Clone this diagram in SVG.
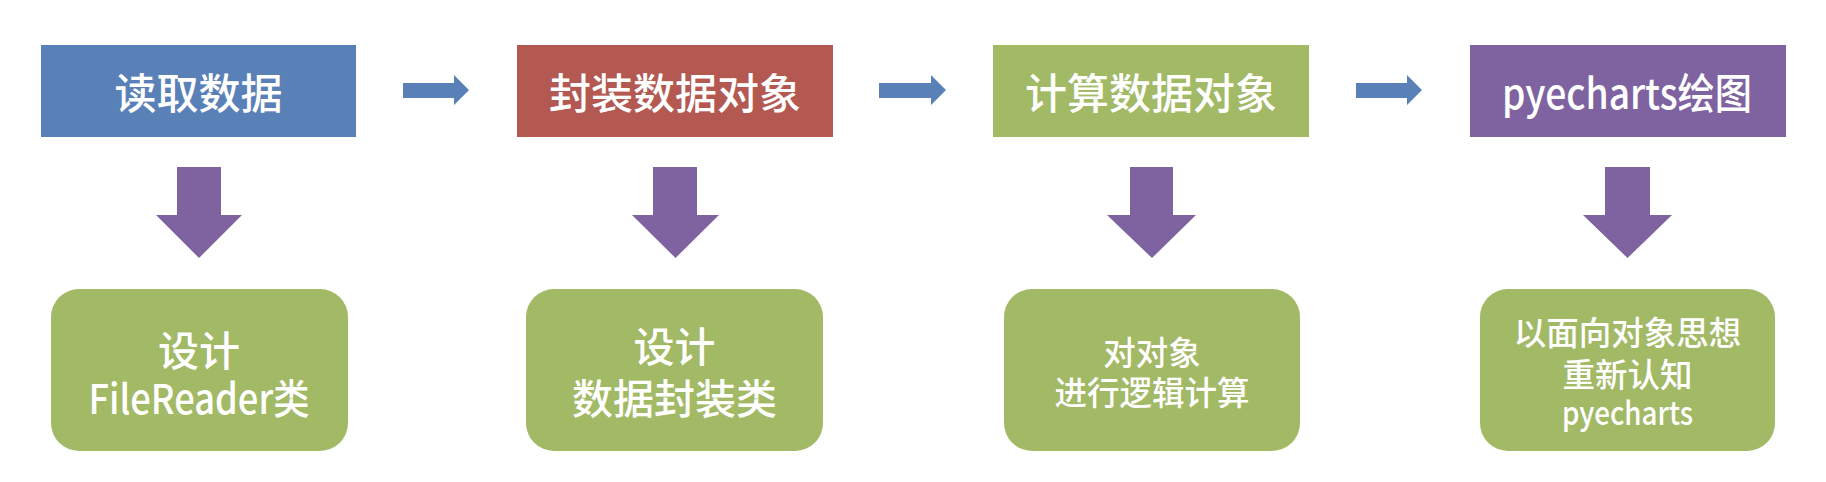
<svg xmlns="http://www.w3.org/2000/svg" width="1826" height="482" viewBox="0 0 1826 482">
<defs>
<style>
.t{font-family:"Noto Sans CJK SC","Noto Sans",sans-serif;fill:#ffffff;text-anchor:middle;dominant-baseline:central;font-weight:500}
.top{font-size:42px}
.big{font-size:41px}
.small{font-size:32.5px}
.harrow{fill:#5A80B8}
.varrow{fill:#7E63A0}
.bot{fill:#A2B966}
</style>
</defs>
<rect width="1826" height="482" fill="#ffffff"/>
<g id="step1">
<rect x="41" y="45" width="315" height="92" fill="#5A80B8"/>
<text class="t top" x="198.5" y="90">读取数据</text>
</g>
<g id="step2">
<rect x="517" y="45" width="316" height="92" fill="#B45852"/>
<text class="t top" x="675" y="90">封装数据对象</text>
</g>
<g id="step3">
<rect x="993" y="45" width="316" height="92" fill="#A2B966"/>
<text class="t top" x="1151" y="90">计算数据对象</text>
</g>
<g id="step4">
<rect x="1470" y="45" width="316" height="92" fill="#7E63A0"/>
<text class="t top" x="1627" y="90" textLength="250" lengthAdjust="spacingAndGlyphs">pyecharts绘图</text>
</g>
<g id="detail1">
<rect class="bot" x="51" y="289" width="297" height="162" rx="28" ry="28"/>
<text class="t big" x="199" y="348">设计</text>
<text class="t big" x="199" y="396" textLength="221" lengthAdjust="spacingAndGlyphs">FileReader类</text>
</g>
<g id="detail2">
<rect class="bot" x="526" y="289" width="297" height="162" rx="28" ry="28"/>
<text class="t big" x="674.5" y="344">设计</text>
<text class="t big" x="674.5" y="396">数据封装类</text>
</g>
<g id="detail3">
<rect class="bot" x="1004" y="289" width="296" height="162" rx="28" ry="28"/>
<text class="t small" x="1152" y="350">对对象</text>
<text class="t small" x="1152" y="390">进行逻辑计算</text>
</g>
<g id="detail4">
<rect class="bot" x="1480" y="289" width="295" height="162" rx="28" ry="28"/>
<text class="t small" x="1627.5" y="330">以面向对象思想</text>
<text class="t small" x="1627.5" y="372">重新认知</text>
<text class="t small" x="1627.5" y="410" textLength="131" lengthAdjust="spacingAndGlyphs">pyecharts</text>
</g>
<g id="connectors">
<polygon class="harrow" points="403,83 454,83 454,75 469,90 454,105 454,98 403,98"/>
<polygon class="harrow" points="879,83 931,83 931,75 946,90 931,105 931,98 879,98"/>
<polygon class="harrow" points="1356,83 1407,83 1407,75 1422,90 1407,105 1407,98 1356,98"/>
<polygon class="varrow" points="177,167 221,167 221,215 242,215 199,258 156,215 177,215"/>
<polygon class="varrow" points="653,167 697,167 697,215 719,215 675.5,258 632,215 653,215"/>
<polygon class="varrow" points="1130,167 1173,167 1173,215 1196,215 1152,258 1107,215 1130,215"/>
<polygon class="varrow" points="1605,167 1650,167 1650,215 1672,215 1627.5,258 1583,215 1605,215"/>
</g>
</svg>
